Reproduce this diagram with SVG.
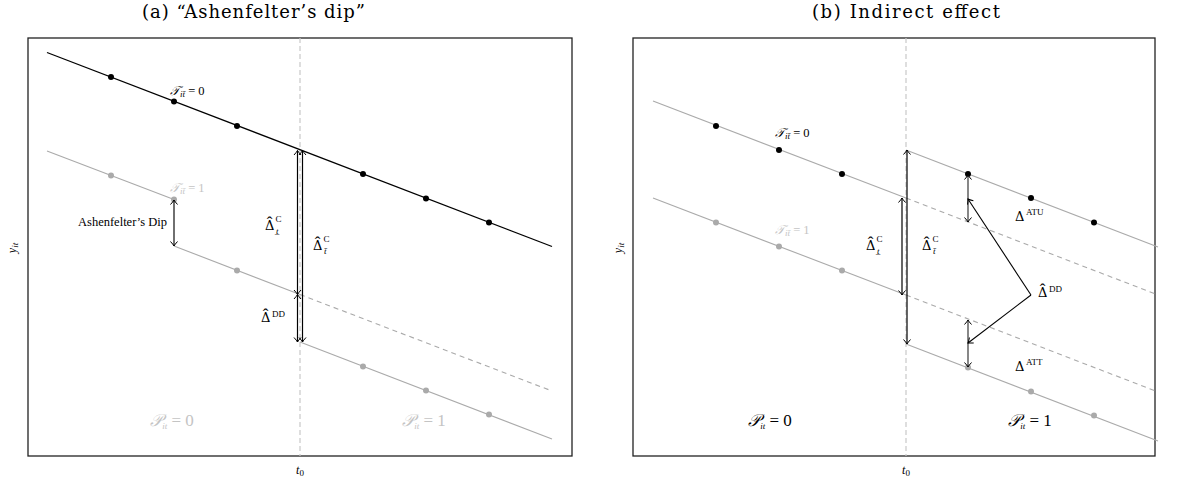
<svg xmlns="http://www.w3.org/2000/svg" width="1181" height="482" viewBox="0 0 1181 482">
<defs>
<marker id="ahk" viewBox="-6 -5 8 10" markerWidth="8" markerHeight="10" refX="0" refY="0" orient="auto-start-reverse" markerUnits="userSpaceOnUse">
<path d="M-4.5,-3.5 Q-1.5,-0.8 0,0 Q-1.5,0.8 -4.5,3.5" fill="none" stroke="#000" stroke-width="1"/>
</marker>
</defs>
<style>
text{font-family:"Liberation Serif","DejaVu Serif",serif;}
.title{font-family:"DejaVu Serif",serif;font-size:18px;fill:#000;}
.frame{fill:none;stroke:#222;stroke-width:1.3;}
.t0{stroke:#c8c8c8;stroke-width:1.2;stroke-dasharray:5,3;fill:none;}
.blk{stroke:#000;stroke-width:1.3;fill:none;}
.gry{stroke:#aaa;stroke-width:1.1;fill:none;}
.gdash{stroke:#aaa;stroke-width:1.1;fill:none;stroke-dasharray:5,4;}
.dk{fill:#000;}
.lg{fill:#aaa;}
.arr{stroke:#000;stroke-width:1.2;fill:none;marker-start:url(#ahk);marker-end:url(#ahk);}
.arr2{stroke:#555;stroke-width:1.4;fill:none;marker-start:url(#ahk);marker-end:url(#ahk);}
.ptr{stroke:#000;stroke-width:1.1;fill:none;marker-end:url(#ahk);}
.lab{font-size:12.5px;fill:#000;}
.labg{font-size:12.5px;fill:#c4c4c4;}
.big{font-size:17px;fill:#000;text-anchor:middle;}
.bigg{font-size:17px;fill:#c4c4c4;text-anchor:middle;}
.del{font-family:"DejaVu Serif",serif;font-size:13px;fill:#000;}
.hat{font-family:"Liberation Serif",serif;font-size:17px;}
.sm{font-family:"Liberation Serif",serif;font-size:9px;}
.smi{font-family:"Liberation Serif",serif;font-size:9px;font-style:italic;}
.ax{font-size:12px;fill:#000;text-anchor:middle;font-style:italic;}
.sub{font-size:9px;}
</style>
<rect width="1181" height="482" fill="#fff"/>
<text class="title" x="142" y="18" textLength="223" lengthAdjust="spacing">(a) “Ashenfelter’s dip”</text>
<text class="title" x="812" y="18" textLength="188" lengthAdjust="spacing">(b) Indirect effect</text>

<g id="panel-a">
<rect class="frame" x="28" y="38" width="544" height="418"/>
<line class="t0" x1="300" y1="38" x2="300" y2="456"/>
<text class="ax" x="300" y="474">t<tspan class="sub" dy="2" font-style="normal">0</tspan></text>
<text class="ax" transform="translate(16,248) rotate(-90)">y<tspan class="sub" dy="2">it</tspan></text>
</g>

<g id="a-treated-lines">
<line class="blk" x1="47" y1="52.5" x2="552" y2="246.5"/>
<circle class="dk" cx="111" cy="77" r="3"/>
<circle class="dk" cx="174" cy="101.5" r="3"/>
<circle class="dk" cx="237" cy="126" r="3"/>
<circle class="dk" cx="363" cy="174" r="3"/>
<circle class="dk" cx="426" cy="198.5" r="3"/>
<circle class="dk" cx="489" cy="222.5" r="3"/>
<text class="lab" x="170" y="95"><tspan font-style="italic">𝒯</tspan><tspan class="sub" dy="2" font-style="italic">it̄</tspan><tspan dy="-2"> = 0</tspan></text>
</g>

<g id="a-control-lines">
<polyline class="gry" points="47,151 174,199.5"/>
<polyline class="gry" points="174,246 300,294.5"/>
<line class="gdash" x1="300" y1="294.5" x2="552" y2="391"/>
<line class="gry" x1="300" y1="342" x2="552" y2="439"/>
<circle class="lg" cx="111" cy="175.5" r="3"/>
<circle class="lg" cx="174" cy="199.5" r="3"/>
<circle class="lg" cx="237" cy="270.5" r="3"/>
<circle class="lg" cx="363" cy="366.5" r="3"/>
<circle class="lg" cx="426" cy="390.5" r="3"/>
<circle class="lg" cx="489" cy="414.5" r="3"/>
<text class="labg" x="170" y="192"><tspan font-style="italic">𝒯</tspan><tspan class="sub" dy="2" font-style="italic">it̄</tspan><tspan dy="-2"> = 1</tspan></text>
<text class="bigg" x="172" y="426"><tspan font-style="italic">𝒫</tspan><tspan class="sub" font-size="11" dy="3" font-style="italic">it</tspan><tspan dy="-3"> = 0</tspan></text>
<text class="bigg" x="424" y="426"><tspan font-style="italic">𝒫</tspan><tspan class="sub" font-size="11" dy="3" font-style="italic">it</tspan><tspan dy="-3"> = 1</tspan></text>
</g>

<g id="a-arrows">
<line class="arr2" x1="174" y1="200" x2="174" y2="246" style="stroke:#333"/>
<text class="lab" x="167" y="226" text-anchor="end">Ashenfelter’s Dip</text>
<line class="arr" x1="297.5" y1="150.5" x2="297.5" y2="294.5"/>
<line class="arr" x1="297.5" y1="294.5" x2="297.5" y2="342"/>
<line class="arr" x1="302.5" y1="150.5" x2="302.5" y2="342"/>
<text class="del" x="265" y="230">Δ<tspan class="hat" x="266.7" y="228">ˆ</tspan><tspan class="sm" x="275.5" y="222">C</tspan><tspan class="smi" x="276" y="234">t̲</tspan></text>
<text class="del" x="313" y="250">Δ<tspan class="hat" x="314.7" y="248">ˆ</tspan><tspan class="sm" x="323.5" y="242">C</tspan><tspan class="smi" x="324" y="254">t̄</tspan></text>
<text class="del" x="261" y="322">Δ<tspan class="hat" x="262.7" y="320">ˆ</tspan><tspan class="sm" x="272" y="317">DD</tspan></text>
</g>

<g id="panel-b">
<rect class="frame" x="633" y="38" width="522" height="418"/>
<line class="t0" x1="906" y1="38" x2="906" y2="456"/>
<text class="ax" x="906" y="474">t<tspan class="sub" dy="2" font-style="normal">0</tspan></text>
<text class="ax" transform="translate(622,248) rotate(-90)">y<tspan class="sub" dy="2">it</tspan></text>
</g>

<g id="b-lines">
<line class="gry" x1="653" y1="101" x2="906" y2="198"/>
<line class="gry" x1="906" y1="150" x2="1158" y2="247"/>
<line class="gdash" x1="906" y1="198" x2="1158" y2="295"/>
<line class="gry" x1="653" y1="198" x2="906" y2="295"/>
<line class="gdash" x1="906" y1="295" x2="1158" y2="392"/>
<line class="gry" x1="906" y1="344" x2="1158" y2="441"/>
<circle class="dk" cx="716" cy="126" r="3"/>
<circle class="dk" cx="779" cy="150" r="3"/>
<circle class="dk" cx="842" cy="174" r="3"/>
<circle class="dk" cx="968" cy="174" r="3"/>
<circle class="dk" cx="1031" cy="198" r="3"/>
<circle class="dk" cx="1094" cy="222.5" r="3"/>
<circle class="lg" cx="716" cy="222.5" r="3"/>
<circle class="lg" cx="779" cy="246.5" r="3"/>
<circle class="lg" cx="842" cy="270.5" r="3"/>
<circle class="lg" cx="968" cy="367.5" r="3"/>
<circle class="lg" cx="1031" cy="391.5" r="3"/>
<circle class="lg" cx="1094" cy="415.5" r="3"/>
<text class="lab" x="775" y="137"><tspan font-style="italic">𝒯</tspan><tspan class="sub" dy="2" font-style="italic">it̄</tspan><tspan dy="-2"> = 0</tspan></text>
<text class="labg" x="775" y="234"><tspan font-style="italic">𝒯</tspan><tspan class="sub" dy="2" font-style="italic">it̄</tspan><tspan dy="-2"> = 1</tspan></text>
<text class="big" x="770" y="426"><tspan font-style="italic">𝒫</tspan><tspan class="sub" font-size="11" dy="3" font-style="italic">it</tspan><tspan dy="-3"> = 0</tspan></text>
<text class="big" x="1030" y="426"><tspan font-style="italic">𝒫</tspan><tspan class="sub" font-size="11" dy="3" font-style="italic">it</tspan><tspan dy="-3"> = 1</tspan></text>
</g>

<g id="b-arrows">
<line class="arr" x1="902" y1="198" x2="902" y2="295"/>
<line class="arr" x1="907" y1="150" x2="907" y2="344"/>
<line class="arr2" x1="968" y1="175" x2="968" y2="222"/>
<line class="arr2" x1="968" y1="320" x2="968" y2="367"/>
<polyline class="ptr" points="1031,295 968,199"/>
<polyline class="ptr" points="1031,295 968,343"/>
<text class="del" x="866" y="250">Δ<tspan class="hat" x="867.7" y="248">ˆ</tspan><tspan class="sm" x="876.5" y="242">C</tspan><tspan class="smi" x="877" y="254">t̲</tspan></text>
<text class="del" x="922" y="250">Δ<tspan class="hat" x="923.7" y="248">ˆ</tspan><tspan class="sm" x="932.5" y="242">C</tspan><tspan class="smi" x="933" y="254">t̄</tspan></text>
<text class="del" x="1038" y="297">Δ<tspan class="hat" x="1039.7" y="295">ˆ</tspan><tspan class="sm" x="1049" y="292">DD</tspan></text>
<text class="del" x="1015" y="221">Δ<tspan class="sm" x="1026" y="215">ATU</tspan></text>
<text class="del" x="1015" y="371">Δ<tspan class="sm" x="1026" y="365">ATT</tspan></text>
</g>
</svg>
